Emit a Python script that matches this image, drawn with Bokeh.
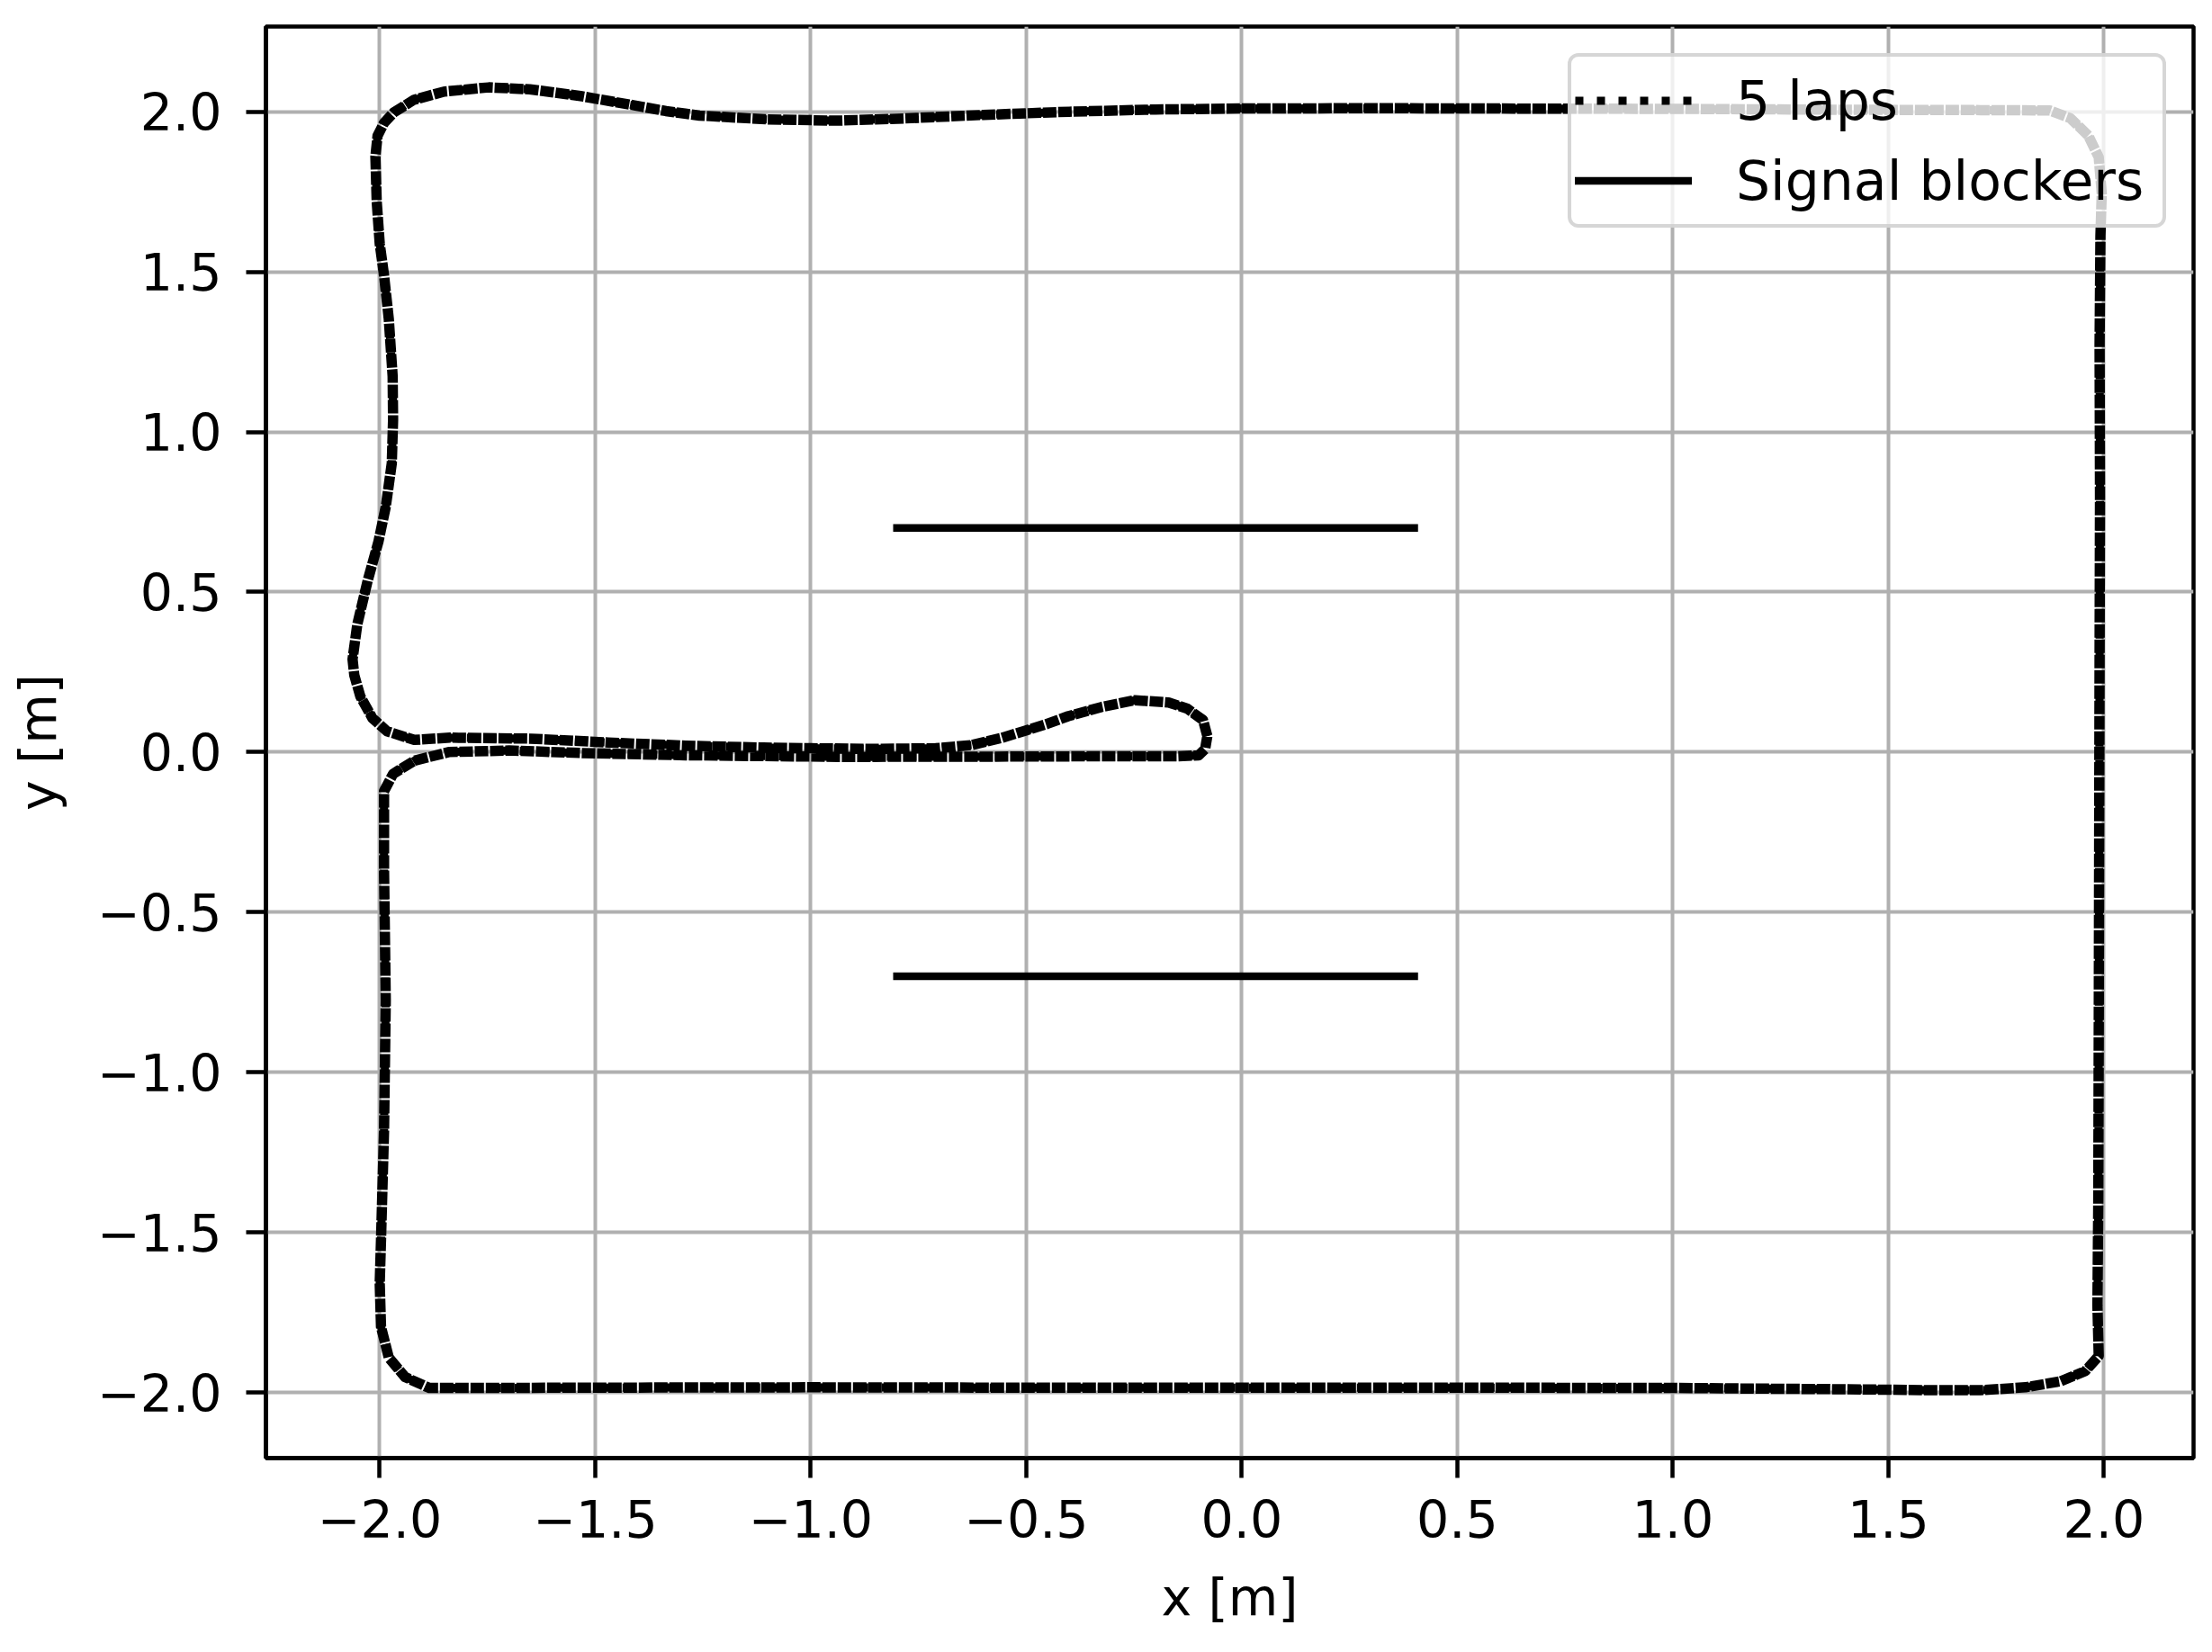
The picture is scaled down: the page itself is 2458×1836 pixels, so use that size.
from bokeh.plotting import figure
from bokeh.models import FixedTicker, CustomJSTickFormatter, Legend, LegendItem, Range1d, ColumnDataSource
from bokeh.embed import file_html
from bokeh.resources import INLINE

# ---- data (metres) ----
path_x = [-0.080, -0.090, -0.127, -0.170, -0.248, -0.325, -0.403, -0.454, -0.500, -0.558, -0.627,
          -0.710, -0.850, -1.000, -1.110, -1.290, -1.470, -1.650, -1.837, -1.920, -1.983, -2.017,
          -2.045, -2.059, -2.063, -2.052, -2.028, -2.003, -1.986, -1.972, -1.969, -1.970, -1.979,
          -1.990, -2.000, -2.007, -2.010, -2.005, -1.990, -1.968, -1.921, -1.850, -1.747, -1.652,
          -1.534, -1.415, -1.336, -1.258, -1.100, -0.940, -0.800, -0.600, -0.400, -0.200, 0.000,
          0.300, 0.600, 1.000, 1.400, 1.714, 1.874, 1.922, 1.964, 1.988, 1.995, 1.992, 1.990,
          1.991, 1.990, 1.989, 1.988, 1.987, 1.985, 1.988, 1.957, 1.900, 1.818, 1.714, 1.610,
          1.400, 1.000, 0.500, 0.000, -0.500, -1.000, -1.500, -1.795, -1.885, -1.941, -1.979,
          -1.997, -2.000, -1.997, -1.990, -1.986, -1.990, -1.990, -1.969, -1.920, -1.840, -1.700,
          -1.530, -1.290, -0.930, -0.500, -0.330, -0.150, -0.100, -0.085, -0.080]
path_y = [0.050, 0.100, 0.136, 0.155, 0.162, 0.141, 0.112, 0.087, 0.068, 0.044, 0.022,
          0.012, 0.010, 0.012, 0.014, 0.020, 0.030, 0.042, 0.045, 0.038, 0.065, 0.106,
          0.174, 0.240, 0.290, 0.399, 0.535, 0.657, 0.766, 0.902, 1.038, 1.174, 1.353,
          1.489, 1.588, 1.720, 1.860, 1.925, 1.965, 1.997, 2.037, 2.063, 2.076, 2.070,
          2.049, 2.021, 2.002, 1.988, 1.976, 1.972, 1.978, 1.990, 2.000, 2.007, 2.010,
          2.011, 2.010, 2.009, 2.006, 2.005, 2.004, 1.980, 1.925, 1.858, 1.745, 1.613, 1.274,
          0.800, 0.300, -0.300, -0.900, -1.400, -1.727, -1.886, -1.933, -1.965, -1.984, -1.993, -1.993,
          -1.990, -1.986, -1.985, -1.985, -1.985, -1.984, -1.985, -1.986, -1.986, -1.952, -1.891,
          -1.795, -1.659, -1.523, -1.183, -0.775, -0.367, -0.122, -0.068, -0.027, 0.000, 0.005,
          -0.003, -0.010, -0.015, -0.014, -0.013, -0.013, -0.010, 0.010, 0.050]

blocker_x_start = [-0.8, -0.8]
blocker_x_end = [0.4, 0.4]
blocker_y = [0.7, -0.7]

tick_values = [-2.0, -1.5, -1.0, -0.5, 0.0, 0.5, 1.0, 1.5, 2.0]
series_labels = ["5 laps", "Signal blockers"]

FONT = "DejaVu Sans"
FS = "57px"

p = figure(width=2448, height=1826,
           x_range=Range1d(-2.264, 2.208), y_range=Range1d(-2.205, 2.266),
           output_backend="svg", toolbar_location=None,
           min_border_left=295, min_border_right=11, min_border_top=29, min_border_bottom=206)

p.background_fill_color = "white"
p.border_fill_color = "white"
p.outline_line_color = "black"
p.outline_line_width = 4.5

# grid
p.xgrid.ticker = FixedTicker(ticks=tick_values)
p.ygrid.ticker = FixedTicker(ticks=tick_values)
p.grid.grid_line_color = "#b0b0b0"
p.grid.grid_line_width = 4

fmt = CustomJSTickFormatter(code="return tick.toFixed(1).replace('-', '\\u2212');")
for ax in (p.xaxis[0], p.yaxis[0]):
    ax.ticker = FixedTicker(ticks=tick_values)
    ax.formatter = fmt
    ax.major_label_text_font = FONT
    ax.major_label_text_font_size = FS
    ax.major_label_text_color = "black"
    ax.axis_label_text_font = FONT
    ax.axis_label_text_font_size = FS
    ax.axis_label_text_font_style = "normal"
    ax.axis_label_text_color = "black"
    ax.major_tick_out = 22
    ax.major_tick_in = 0
    ax.major_tick_line_width = 4.5
    ax.major_tick_line_color = "black"
    ax.minor_tick_line_color = None
    ax.axis_line_width = 4.5
    ax.axis_line_color = "black"

p.xaxis.axis_label = "x [m]"
p.yaxis.axis_label = "y [m]"
p.xaxis.major_label_standoff = 24
p.yaxis.major_label_standoff = 27
p.xaxis.axis_label_standoff = 30
p.yaxis.axis_label_standoff = 30

# trajectory (5 overlapping dotted laps -> dotted base plus a denser overlay)
src = ColumnDataSource(data=dict(x=path_x, y=path_y))
traj = p.line("x", "y", source=src, line_color="black", line_width=9,
              line_dash="9 15", line_join="round")
traj_fill = p.line("x", "y", source=src, line_color="black", line_width=11.5,
                   line_dash="15 2", line_join="round")

# blockers
bxs = [[a, b] for a, b in zip(blocker_x_start, blocker_x_end)]
bys = [[y, y] for y in blocker_y]
blk = p.multi_line(xs=bxs, ys=bys, line_color="black", line_width=8.5, line_cap="square")

legend = Legend(items=[LegendItem(label=series_labels[0], renderers=[traj]),
                       LegendItem(label=series_labels[1], renderers=[blk])],
                location="top_right")
legend.margin = 30
legend.padding = 4
legend.spacing = 0
legend.glyph_width = 130
legend.glyph_height = 89
legend.label_height = 89
legend.label_width = 470
legend.label_standoff = 49
legend.label_text_font = FONT
legend.label_text_font_size = "60px"
legend.label_text_color = "black"
legend.background_fill_color = "white"
legend.background_fill_alpha = 0.8
legend.border_line_color = "#cccccc"
legend.border_line_width = 4
legend.border_line_alpha = 0.8
try:
    legend.border_radius = 12
except Exception:
    pass
p.add_layout(legend, "center")

open("out.html", "w").write(file_html(p, INLINE))
